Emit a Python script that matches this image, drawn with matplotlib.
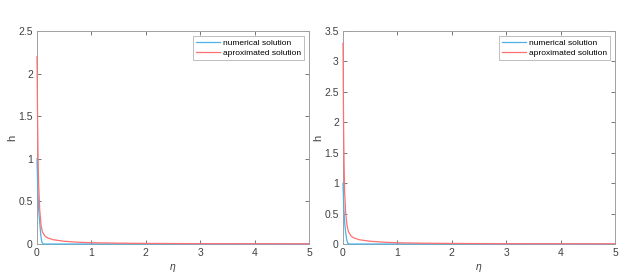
import matplotlib
matplotlib.use("Agg")
import matplotlib.pyplot as plt

plt.rcParams['font.family'] = ['Liberation Sans', 'DejaVu Sans']

# Left panel data
eta_num_L = [0, 0.01, 0.02, 0.03, 0.05, 0.07, 0.09, 0.12, 0.2, 0.5, 1, 2, 3, 4, 5]
h_num_L = [1.0, 0.75, 0.55, 0.4, 0.25, 0.1, 0.02, 0.0, 0.0, 0.0, 0.0, 0.0, 0.0, 0.0, 0.0]
eta_apx_L = [0, 0.01, 0.02, 0.03, 0.05, 0.075, 0.1, 0.15, 0.2, 0.3, 0.5, 0.75, 1, 1.5, 2, 3, 4, 5]
h_apx_L = [2.2, 1.5, 1.0, 0.7, 0.4, 0.22, 0.14, 0.09, 0.07, 0.05, 0.032, 0.021, 0.015, 0.01, 0.007, 0.004, 0.003, 0.002]

# Right panel data
eta_num_R = [0, 0.01, 0.02, 0.03, 0.05, 0.07, 0.09, 0.12, 0.2, 0.5, 1, 2, 3, 4, 5]
h_num_R = [1.0, 0.7, 0.5, 0.35, 0.18, 0.06, 0.01, 0.0, 0.0, 0.0, 0.0, 0.0, 0.0, 0.0, 0.0]
eta_apx_R = [0, 0.01, 0.02, 0.03, 0.05, 0.075, 0.1, 0.15, 0.2, 0.3, 0.5, 0.75, 1, 1.5, 2, 3, 4, 5]
h_apx_R = [3.3, 2.0, 1.3, 0.85, 0.5, 0.3, 0.2, 0.13, 0.1, 0.07, 0.045, 0.03, 0.02, 0.013, 0.009, 0.005, 0.004, 0.003]

xticks = [0, 1, 2, 3, 4, 5]
yticks_L = [0, 0.5, 1, 1.5, 2, 2.5]
yticks_R = [0, 0.5, 1, 1.5, 2, 2.5, 3, 3.5]

blue = '#4db3e6'
red = '#ff7070'
W, H = 643, 274
fig = plt.figure(figsize=(W / 100, H / 100), dpi=100)

def make_ax(x0, x1, y0, y1):
    return fig.add_axes([x0 / W, 1 - y1 / H, (x1 - x0) / W, (y1 - y0) / H])

axes_specs = [
    (make_ax(37, 309, 31, 244), eta_num_L, h_num_L, eta_apx_L, h_apx_L, yticks_L, 2.5),
    (make_ax(343, 615, 31, 244), eta_num_R, h_num_R, eta_apx_R, h_apx_R, yticks_R, 3.5),
]

for ax, en, hn, ea, ha, yt, ymax in axes_specs:
    ax.plot(en, hn, color=blue, lw=0.9, label='numerical solution', zorder=3, clip_on=False)
    ax.plot(ea, ha, color=red, lw=0.9, label='aproximated solution', zorder=3, clip_on=False)
    ax.set_xlim(0, 5)
    ax.set_ylim(0, ymax)
    ax.set_xticks(xticks)
    ax.set_xticklabels([str(t) for t in xticks])
    ax.set_yticks(yt)
    ax.set_yticklabels([('%g' % t) for t in yt])
    ax.tick_params(direction='in', length=3, width=0.5, colors='#404040',
                   labelsize=7.5, top=True, right=True, pad=3)
    for s in ax.spines.values():
        s.set_color('#a0a0a0')
        s.set_linewidth(0.7)
        s.set_zorder(2)
    ax.set_xlabel('η', fontsize=7.5, color='#404040', fontstyle='italic', labelpad=3)
    ax.set_ylabel('h', fontsize=8, color='#404040', labelpad=1)
    leg = ax.legend(loc='upper right', fontsize=6.0, frameon=True, fancybox=False,
                    borderaxespad=0.55, handlelength=2.9, handletextpad=0.3,
                    borderpad=0.4, labelspacing=0.3)
    leg.get_frame().set_edgecolor('#a0a0a0')
    leg.get_frame().set_linewidth(0.6)
    leg.set_zorder(5)

fig.savefig('out.png', dpi=100)
